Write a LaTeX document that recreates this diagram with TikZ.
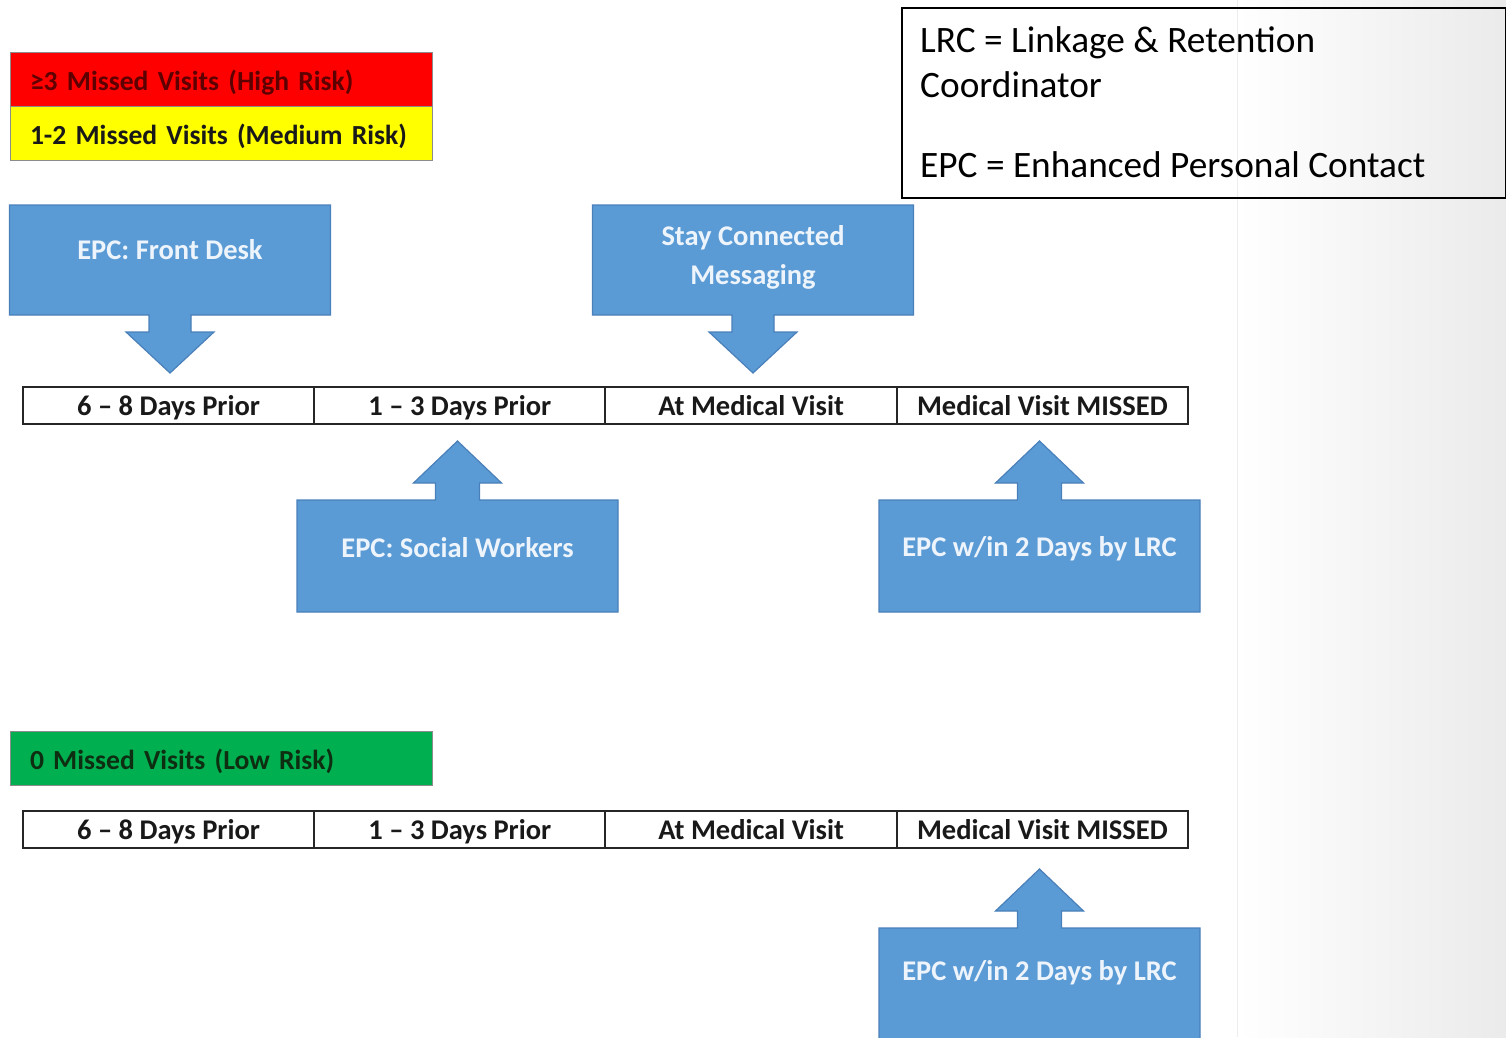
\documentclass[tikz,border=0pt]{standalone}
\usepackage{fontspec}
\setmainfont{Carlito}
\usetikzlibrary{calc}
\pgfdeclarelayer{back}
\pgfdeclarelayer{shapes}
\pgfsetlayers{back,shapes,main}

\definecolor{calloutblue}{HTML}{5B9BD5}
\definecolor{calloutedge}{HTML}{4A80BA}
\definecolor{calltextcol}{HTML}{EEF4FB}
\definecolor{riskred}{HTML}{FF0000}
\definecolor{riskyellow}{HTML}{FFFF00}
\definecolor{riskgreen}{HTML}{00B050}
\definecolor{redtext}{HTML}{5E0000}
\definecolor{greentext}{HTML}{0E2E12}

% callout box with an arrow pointing down from its lower edge
\newcommand\calloutdown[1]{%
  \begin{pgfonlayer}{shapes}
  \filldraw[fill=calloutblue, draw=calloutedge, line width=1.2pt, line join=miter]
    (#1.north west) -- (#1.north east) -- (#1.south east)
    -- ($(#1.south)+(21,0)$) -- ++(0,17) -- ++(23,0) -- ($(#1.south)+(0,58)$)
    -- ($(#1.south)+(-44,17)$) -- ++(23,0) -- ++(0,-17)
    -- (#1.south west) -- cycle;
  \end{pgfonlayer}}
% callout box with an arrow pointing up from its upper edge
\newcommand\calloutup[1]{%
  \begin{pgfonlayer}{shapes}
  \filldraw[fill=calloutblue, draw=calloutedge, line width=1.2pt, line join=miter]
    (#1.south west) -- (#1.south east) -- (#1.north east)
    -- ($(#1.north)+(22,0)$) -- ++(0,-17) -- ++(22,0) -- ($(#1.north)+(0,-59)$)
    -- ($(#1.north)+(-44,-17)$) -- ++(22,0) -- ++(0,17)
    -- (#1.north west) -- cycle;
  \end{pgfonlayer}}

\tikzset{
  callbox/.style={minimum width=321pt, minimum height=110pt, inner sep=0pt, outer sep=0pt},
  calltext/.style={font=\bfseries\fontsize{28.5}{39}\selectfont, text=calltextcol, align=center, inner sep=0pt},
  cell/.style={draw=black!85, fill=white, line width=2pt, minimum width=291.25pt, minimum height=37pt,
    inner sep=0pt, outer sep=0pt, text height=24pt, text depth=5pt,
    font=\bfseries\fontsize{28.5}{32}\selectfont, text=black!90},
  legendbox/.style={draw=black!45, line width=1pt, minimum width=422pt, minimum height=54pt,
    inner xsep=20pt, inner ysep=0pt, outer sep=0pt, text width=382pt, align=left,
    text height=26pt, text depth=4pt,
    font=\bfseries\fontsize{27.6}{32}\selectfont},
  deftext/.style={font=\fontsize{37.3}{43}\selectfont, anchor=base west, inner sep=0pt, text=black}
}

\begin{document}
\begin{tikzpicture}[x=1pt, y=-1pt]
  \useasboundingbox (0,0) rectangle (1506,1037);
  \clip (0,0) rectangle (1506,1037);

  % page background with the soft grey fade on the right
  \begin{pgfonlayer}{back}
    \fill[white] (0,0) rectangle (1506,1037);
    \shade[left color=white, right color=black!8] (1237,0) rectangle (1506,1037);
    \draw[black!7, line width=1pt] (1237,0) -- (1237,1037);
  \end{pgfonlayer}

  % risk legend
  \node[legendbox, fill=riskred, text=redtext] (high) at (221,79) {≥3 Missed Visits (High Risk)};
  \node[legendbox, fill=riskyellow, text=black!90] (medium) at (221,133) {1-2 Missed Visits (Medium Risk)};
  \node[legendbox, fill=riskgreen, text=greentext] (low) at (221,758.5) {0 Missed Visits (Low Risk)};

  % abbreviations
  \node[draw=black, line width=2pt, minimum width=604pt, minimum height=190pt, anchor=north west,
        inner sep=0pt] (defs) at (901,7) {};
  \node[deftext] (defa) at (920,52) {LRC = Linkage \& Retention};
  \node[deftext] (defb) at (920,97) {Coordinator};
  \node[deftext] (defc) at (920,177) {EPC = Enhanced Personal Contact};

  % timeline for medium and high risk
  \node[cell] (ta) at (168.6,405.5) {6 – 8 Days Prior};
  \node[cell] (tb) at (459.9,405.5) {1 – 3 Days Prior};
  \node[cell] (tc) at (751.1,405.5) {At Medical Visit};
  \node[cell] (td) at (1042.4,405.5) {Medical Visit MISSED};

  % timeline for low risk
  \node[cell] (ua) at (168.6,829.5) {6 – 8 Days Prior};
  \node[cell] (ub) at (459.9,829.5) {1 – 3 Days Prior};
  \node[cell] (uc) at (751.1,829.5) {At Medical Visit};
  \node[cell] (ud) at (1042.4,829.5) {Medical Visit MISSED};

  % contact steps above the timeline
  \node[callbox] (fd) at (170,260) {};
  \calloutdown{fd}
  \node[calltext] (fdt) at ($(fd.center)+(0,-10)$) {EPC: Front Desk};

  \node[callbox] (sc) at (753,260) {};
  \calloutdown{sc}
  \node[calltext] (sct) at ($(sc.center)+(0,-3)$) {Stay Connected\\Messaging};

  % contact steps below the timeline
  \node[callbox, minimum height=112pt] (sw) at (457.5,556) {};
  \calloutup{sw}
  \node[calltext] (swt) at ($(sw.center)+(0,-8)$) {EPC: Social Workers};

  \node[callbox, minimum height=112pt] (lr) at (1039.5,556) {};
  \calloutup{lr}
  \node[calltext] (lrt) at ($(lr.center)+(0,-7)$) {EPC w/in 2 Days by LRC};

  \node[callbox, minimum height=112pt] (lq) at (1039.5,984) {};
  \calloutup{lq}
  \node[calltext] (lqt) at ($(lq.center)+(0,-11)$) {EPC w/in 2 Days by LRC};
\end{tikzpicture}
\end{document}
